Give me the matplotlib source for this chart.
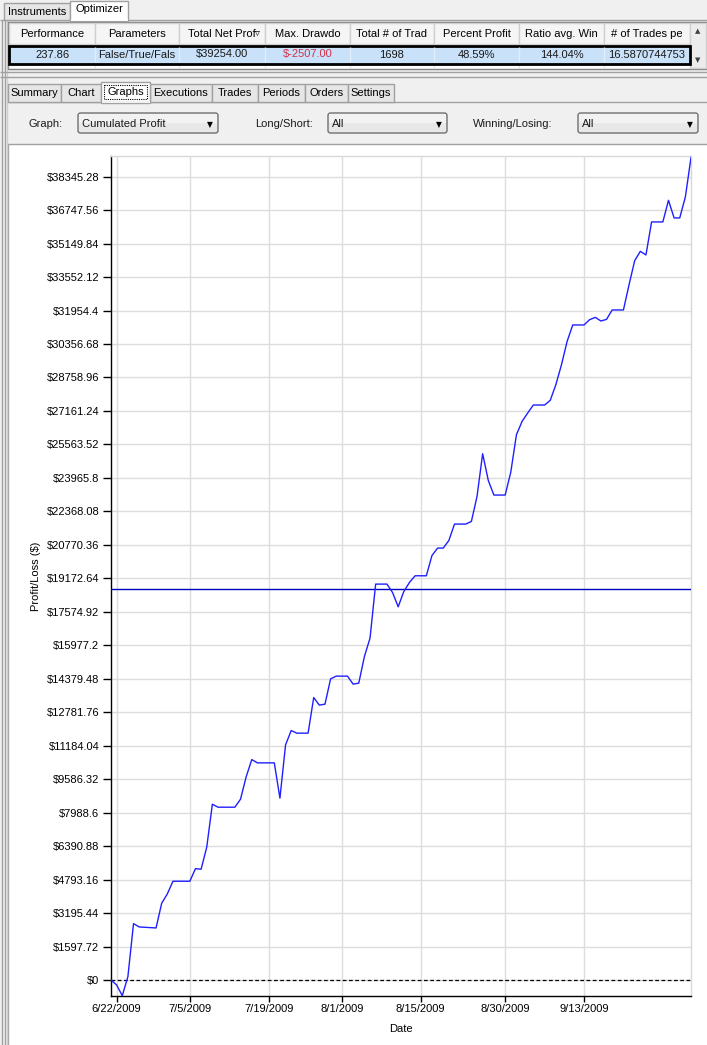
import matplotlib
matplotlib.use("Agg")
import matplotlib.pyplot as plt
from matplotlib.patches import Rectangle, FancyBboxPatch
import datetime as dt

# ---------------- data ----------------
dates = ["2009-06-21", "2009-06-22", "2009-06-23", "2009-06-24", "2009-06-25", "2009-06-26",
         "2009-06-29", "2009-06-30", "2009-07-01", "2009-07-02", "2009-07-05", "2009-07-06",
         "2009-07-07", "2009-07-08", "2009-07-09", "2009-07-10", "2009-07-13", "2009-07-14",
         "2009-07-15", "2009-07-16", "2009-07-17", "2009-07-20", "2009-07-21", "2009-07-22",
         "2009-07-23", "2009-07-24", "2009-07-26", "2009-07-27", "2009-07-28", "2009-07-29",
         "2009-07-30", "2009-07-31", "2009-08-02", "2009-08-03", "2009-08-04", "2009-08-05",
         "2009-08-06", "2009-08-07", "2009-08-09", "2009-08-10", "2009-08-11", "2009-08-12",
         "2009-08-13", "2009-08-14", "2009-08-16", "2009-08-17", "2009-08-18", "2009-08-19",
         "2009-08-20", "2009-08-21", "2009-08-23", "2009-08-24", "2009-08-25", "2009-08-26",
         "2009-08-27", "2009-08-28", "2009-08-30", "2009-08-31", "2009-09-01", "2009-09-02",
         "2009-09-03", "2009-09-04", "2009-09-06", "2009-09-07", "2009-09-08", "2009-09-09",
         "2009-09-10", "2009-09-11", "2009-09-13", "2009-09-14", "2009-09-15", "2009-09-16",
         "2009-09-17", "2009-09-18", "2009-09-20", "2009-09-21", "2009-09-22", "2009-09-23",
         "2009-09-24", "2009-09-25", "2009-09-27", "2009-09-28", "2009-09-29", "2009-09-30",
         "2009-10-01", "2009-10-02"]
profit = [0, -239, -750, 158, 2689, 2531,
          2483, 3663, 4107, 4713, 4713, 5315,
          5286, 6337, 8390, 8247, 8247, 8629,
          9694, 10520, 10363, 10363, 8677, 11222,
          11905, 11781, 11781, 13481, 13118, 13166,
          14374, 14503, 14503, 14121, 14169, 15439,
          16318, 18896, 18896, 18495, 17812, 18543,
          18973, 19293, 19293, 20262, 20615, 20615,
          20978, 21761, 21761, 21886, 23080, 25119,
          23844, 23146, 23146, 24245, 26026, 26661,
          27062, 27444, 27444, 27664, 28414, 29369,
          30481, 31265, 31265, 31518, 31627, 31455,
          31532, 31981, 31981, 33189, 34335, 34779,
          34607, 36183, 36183, 37215, 36374, 36374,
          37377, 39254]
reference_level = 18657

y_ticks = [0, 1597.72, 3195.44, 4793.16, 6390.88, 7988.6, 9586.32, 11184.04, 12781.76,
           14379.48, 15977.2, 17574.92, 19172.64, 20770.36, 22368.08, 23965.8, 25563.52,
           27161.24, 28758.96, 30356.68, 31954.4, 33552.12, 35149.84, 36747.56, 38345.28]
y_tick_labels = ["$0", "$1597.72", "$3195.44", "$4793.16", "$6390.88", "$7988.6", "$9586.32",
                 "$11184.04", "$12781.76", "$14379.48", "$15977.2", "$17574.92", "$19172.64",
                 "$20770.36", "$22368.08", "$23965.8", "$25563.52", "$27161.24", "$28758.96",
                 "$30356.68", "$31954.4", "$33552.12", "$35149.84", "$36747.56", "$38345.28"]
x_tick_dates = ["2009-06-22", "2009-07-05", "2009-07-19", "2009-08-01", "2009-08-15",
                "2009-08-30", "2009-09-13"]
x_tick_labels = ["6/22/2009", "7/5/2009", "7/19/2009", "8/1/2009", "8/15/2009",
                 "8/30/2009", "9/13/2009"]

grid_columns = ["Performance", "Parameters", "Total Net Prof", "Max. Drawdo", "Total # of Trad",
                "Percent Profit", "Ratio avg. Win", "# of Trades pe"]
grid_values = ["237.86", "False/True/Fals", "$39254.00", "$-2507.00", "1698",
               "48.59%", "144.04%", "16.5870744753"]
top_tabs = ["Instruments", "Optimizer"]
sub_tabs = ["Summary", "Chart", "Graphs", "Executions", "Trades", "Periods", "Orders", "Settings"]
combo_labels = ["Graph:", "Long/Short:", "Winning/Losing:"]
combo_values = ["Cumulated Profit", "All", "All"]

# ---------------- figure ----------------
W, H = 707, 1045
FONT = "Liberation Sans"
plt.rcParams['font.family'] = [FONT, 'DejaVu Sans']
fig = plt.figure(figsize=(W / 100, H / 100), dpi=100)
fig.patch.set_facecolor('#f0f0f0')

ui = fig.add_axes([0, 0, 1, 1], zorder=0)
ui.set_xlim(0, W)
ui.set_ylim(H, 0)
ui.axis('off')


def rect(x0, y0, x1, y1, fc='none', ec='none', lw=1.0, z=1, ls='-'):
    ui.add_patch(Rectangle((x0, y0), x1 - x0, y1 - y0, facecolor=fc, edgecolor=ec,
                           linewidth=lw, zorder=z, linestyle=ls))


def txt(x, y, s, ha='center', color='black', size=8, z=5, family=None):
    ui.text(x, y, s, ha=ha, va='center', color=color, fontsize=size, zorder=z,
            family=family if family else [FONT, 'DejaVu Sans'])


def hline(y, x0, x1, c, lw=1.0, z=2):
    ui.plot([x0, x1], [y, y], color=c, lw=lw, zorder=z, solid_capstyle='butt')


def vline(x, y0, y1, c, lw=1.0, z=2):
    ui.plot([x, x], [y0, y1], color=c, lw=lw, zorder=z, solid_capstyle='butt')


# left window frame
vline(1.5, 20, H, '#a0a0a0')
vline(4.5, 20, H, '#a0a0a0')
vline(6.5, 20, H, '#d0d0d0')

# top tabs
hline(20, 0, W, '#a0a0a0')
rect(4, 3, 70, 20, fc='#e6e6e6', ec='#a0a0a0', z=3)
rect(70, 0.5, 128, 20.5, fc='white', ec='#a0a0a0', z=3)
hline(20, 70.5, 127.5, 'white', lw=1.2, z=4)
txt(37, 12, top_tabs[0])
txt(99, 9.5, top_tabs[1])

# optimizer grid
rect(8, 22, 706, 69, fc='white', ec='#808080', z=2)
col_edges = [9, 95, 179, 265, 350, 434, 519, 604, 690]
for i, name in enumerate(grid_columns):
    x0, x1 = col_edges[i], col_edges[i + 1]
    rect(x0, 23, x1, 44, fc='#f5f5f5', ec='#d0d0d0', z=3)
    txt((x0 + x1) / 2, 34, name)
    vline(x0, 44, 68, '#e6e6e6', z=2.5)
# sort glyph on 'Total Net Prof'
txt(257, 33, '\u25BF', size=7, family='DejaVu Sans', z=6)
rect(9, 45.5, 689.5, 63.5, fc='#c9e1f9', ec='black', lw=2.0, z=4)
for i, val in enumerate(grid_values):
    x0, x1 = col_edges[i], col_edges[i + 1]
    if i > 0:
        vline(x0, 47, 62, '#e2eefa', z=4.5)
    color = '#d2304a' if val.startswith('$-') else '#1a1a1a'
    txt((x0 + x1) / 2, 54.5, val, color=color)
# scrollbar
rect(690, 23, 706, 68, fc='#ececec', ec='#d0d0d0', z=3)
txt(698, 31, '\u25B2', size=5, family='DejaVu Sans', color='#404040')
txt(698, 60, '\u25BC', size=5, family='DejaVu Sans', color='#404040')

# splitter
hline(71.5, 0, W, '#a0a0a0')
hline(76.5, 0, W, '#a0a0a0')

# sub tabs
tab_edges = [8, 61, 101, 150, 212, 258, 305, 348, 394]
hline(102, 8, W, '#a0a0a0', z=2)
for i, name in enumerate(sub_tabs):
    x0, x1 = tab_edges[i], tab_edges[i + 1]
    if name == "Graphs":
        rect(x0, 82, x1, 102.5, fc='white', ec='#a0a0a0', z=4)
        hline(102, x0 + 0.5, x1 - 0.5, '#f0f0f0', lw=1.5, z=4.5)
        rect(x0 + 3, 85, x1 - 3, 99, ec='black', lw=0.8, ls=(0, (1, 1)), z=5)
        txt((x0 + x1) / 2, 92, name)
    else:
        rect(x0, 84, x1, 102, fc='#e6e6e6', ec='#a0a0a0', z=3)
        txt((x0 + x1) / 2, 93.5, name)

# panel with combo boxes
label_x = [46, 284, 513]
combo_boxes = [(78, 218), (328, 447), (578, 698)]
for lx, lab, (c0, c1), val in zip(label_x, combo_labels, combo_boxes, combo_values):
    txt(lx, 124, lab, color='#1a1a1a')
    ui.add_patch(FancyBboxPatch((c0, 113), c1 - c0, 20,
                                boxstyle='round,pad=0,rounding_size=2.5',
                                facecolor='#e8e8e8', edgecolor='#707070', lw=1, zorder=3))
    ui.add_patch(Rectangle((c0 + 1, 114), c1 - c0 - 2, 9, facecolor='#f2f2f2',
                           edgecolor='none', zorder=3.5))
    txt(c0 + 4, 124, val, ha='left', color='#1a1a1a')
    txt(c1 - 8, 124.5, '\u25BC', size=5.5, family='DejaVu Sans')

# chart panel
rect(8, 144, W + 1, H + 2, fc='white', ec='#a0a0a0', z=1.5)

# ---------------- chart ----------------
L, R, T, B = 111, 691, 156, 996
ax = fig.add_axes([L / W, 1 - B / H, (R - L) / W, (B - T) / H], zorder=2)
ax.set_facecolor('white')

xd = [dt.datetime.strptime(d, "%Y-%m-%d") for d in dates]
ax.plot(xd, profit, color='#1f1fff', lw=1.0, zorder=4)
ax.axhline(reference_level, color='#0000c0', lw=1.0, zorder=3)
ax.axhline(0, color='black', lw=0.9, ls=(0, (3, 2)), zorder=3)

ax.set_xlim(dt.datetime(2009, 6, 21), dt.datetime(2009, 10, 2))
ax.set_ylim(-765, 39330)

ax.set_yticks(y_ticks)
ax.set_yticklabels(y_tick_labels)
xt = [dt.datetime.strptime(d, "%Y-%m-%d") for d in x_tick_dates]
ax.set_xticks(xt)
ax.set_xticklabels(x_tick_labels)

ax.grid(True, color='#dcdcdc', lw=1.0, zorder=0)
ax.set_axisbelow(True)
for side in ['top', 'right']:
    ax.spines[side].set_color('#d8d8d8')
    ax.spines[side].set_linewidth(1.0)
for side in ['left', 'bottom']:
    ax.spines[side].set_color('black')
    ax.spines[side].set_linewidth(1.0)

ax.tick_params(axis='y', length=6, width=1, pad=2.5, labelsize=8, colors='black')
ax.tick_params(axis='x', length=4, width=1, pad=2, labelsize=8, colors='black')
for lab in ax.get_xticklabels() + ax.get_yticklabels():
    lab.set_family([FONT, 'DejaVu Sans'])

ax.set_xlabel("Date", fontsize=8, family=[FONT, 'DejaVu Sans'])
ax.xaxis.set_label_coords(0.5, -(1024 - B) / (B - T))
ax.set_ylabel("Profit/Loss ($)", fontsize=8, family=[FONT, 'DejaVu Sans'])
ax.yaxis.set_label_coords(-(L - 41) / (R - L), 0.5)

fig.savefig("out.png", dpi=100, facecolor=fig.get_facecolor())
